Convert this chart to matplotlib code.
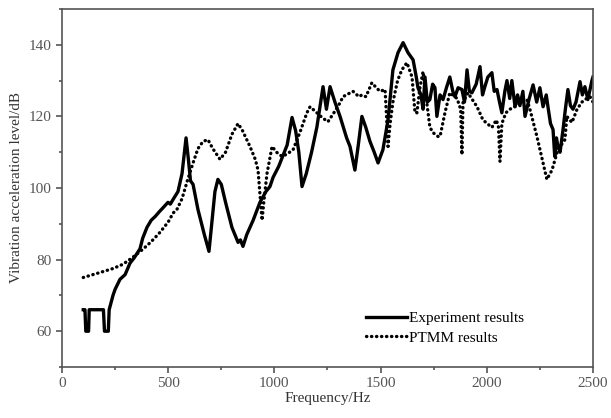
import matplotlib
matplotlib.use("Agg")
import matplotlib.pyplot as plt
from matplotlib.ticker import MultipleLocator

# Experiment results (solid line)
exp_freq = [100, 108, 112, 125, 128, 195, 200, 218, 222, 240, 250, 273, 297, 320, 340,
            367, 380, 400, 420, 438, 460, 476, 499, 510, 525, 546, 565, 584, 595, 605,
            617, 640, 670, 692, 705, 720, 734, 750, 770, 800, 829, 840, 852, 870, 900,
            932, 960, 979, 994, 1020, 1040, 1060, 1083, 1100, 1115, 1130, 1150, 1175,
            1200, 1229, 1245, 1262, 1285, 1309, 1340, 1356, 1379, 1395, 1412, 1430,
            1450, 1470, 1488, 1511, 1535, 1558, 1582, 1606, 1629, 1653, 1668, 1676, 1690,
            1700, 1709, 1720, 1732, 1745, 1756, 1765, 1780, 1794, 1810, 1826, 1840, 1850,
            1865, 1883, 1895, 1907, 1918, 1930, 1950, 1968, 1980, 1991, 2005, 2024, 2035,
            2048, 2060, 2071, 2085, 2095, 2108, 2118, 2133, 2145, 2156, 2170, 2180, 2200,
            2218, 2235, 2250, 2265, 2280, 2288, 2300, 2312, 2320, 2328, 2335, 2345, 2359,
            2370, 2382, 2394, 2406, 2420, 2439, 2450, 2462, 2476, 2488, 2495, 2500]
exp_level = [66, 66, 60, 60, 66, 66, 60, 60, 66, 70, 71.7, 74.5, 75.8, 79, 80.5,
             83, 86, 89, 91, 92, 93.5, 94.5, 96, 95.5, 97, 99, 104, 114, 108, 102,
             101, 94, 87, 82.3, 90, 99, 102.4, 101, 96, 89, 84.8, 85.5, 83.7, 87, 91,
             96, 99, 100.4, 103, 106, 109, 112, 119.7, 116, 110, 100.4, 104, 110,
             117, 128.3, 122, 128.3, 124, 120, 114, 111.6, 105, 112, 120, 117,
             113, 110, 107, 110.7, 119, 133, 137.8, 140.6, 137.8, 135.8, 131, 128, 126,
             122, 131, 124, 124.7, 129, 128, 120, 126, 124.7, 128, 131, 127, 125.5,
             128, 127.5, 124, 133, 127, 126.6, 129, 133.9, 126, 128.3, 131, 132.2, 127,
             127.5, 124, 121, 127, 130, 125, 130, 122.7, 126, 123, 127, 120, 125,
             128.8, 124, 128, 122.7, 126, 122.7, 118, 116.3, 108.8, 114, 111.6, 110, 116.3,
             122, 127.5, 123, 122, 124, 129.7, 126, 128.3, 124.7, 128, 130, 131]

# PTMM results (dotted line)
ptmm_freq = [100, 179, 240, 287, 330, 381, 420, 461, 500, 523, 541, 565, 590, 617,
             640, 664, 687, 710, 744, 770, 800, 829, 850, 885, 910, 923, 935, 942,
             950, 965, 989, 1010, 1036, 1060, 1088, 1120, 1153, 1168, 1200, 1224,
             1252, 1280, 1309, 1323, 1370, 1398, 1412, 1431, 1459, 1480, 1497, 1521,
             1528, 1535, 1545, 1558, 1580, 1600, 1624, 1648, 1662, 1671, 1685, 1700,
             1715, 1732, 1746, 1770, 1780, 1803, 1826, 1860, 1877, 1883, 1888, 1911,
             1954, 1982, 2024, 2045, 2055, 2062, 2071, 2090, 2109, 2140, 2166, 2189,
             2203, 2236, 2265, 2283, 2307, 2335, 2368, 2377, 2401, 2425, 2448, 2470,
             2486, 2500]
ptmm_level = [75, 76.4, 77.5, 78.7, 80.5, 82.9, 85, 87.6, 90.5, 93, 94, 97, 102, 107,
              111, 113, 113.5, 111, 108, 110, 115, 118, 116, 111.6, 108, 105, 96, 91,
              96, 104, 111.6, 110, 108.8, 109.5, 110.7, 115.5, 121, 122.7, 121, 119.7,
              118.5, 121, 123.8, 125.5, 127, 125.5, 126, 125.5, 129.4, 128, 127, 127.5,
              120, 111.6, 118, 124, 130, 133, 135, 131, 121, 121, 128, 132.5,
              125, 117, 115.5, 114.4, 114.4, 121, 126.6, 125, 122, 109.3, 123.8, 126.6,
              122.7, 119, 116.9, 119, 117, 107.4, 118, 121, 122, 123, 124.2, 124.7,
              122, 114.4, 107, 102.4, 105, 110.7, 113.5, 120, 118.3, 122, 124, 125,
              125.5, 124]

plt.rcParams["font.family"] = ["Liberation Serif", "DejaVu Serif"]

fig = plt.figure(figsize=(6.11, 4.18), dpi=100)
ax = fig.add_axes([0.1015, 0.122, 0.869, 0.8565])

ax.plot(exp_freq, exp_level, color="black", linewidth=2.4, label="Experiment results")
ax.plot(ptmm_freq, ptmm_level, color="black", linewidth=2.4,
        linestyle=(0, (0.1, 1.4)), dash_capstyle="round", label="PTMM results")

ax.set_xlim(0, 2500)
ax.set_ylim(50, 150)
ax.xaxis.set_major_locator(MultipleLocator(500))
ax.xaxis.set_minor_locator(MultipleLocator(250))
ax.yaxis.set_major_locator(MultipleLocator(20))
ax.yaxis.set_minor_locator(MultipleLocator(10))
ax.set_yticks([60, 80, 100, 120, 140])

for s in ax.spines.values():
    s.set_color("#555555")
    s.set_linewidth(1.2)
ax.tick_params(which="major", direction="out", length=4, width=1.2,
               color="#555555", labelsize=11, labelcolor="#555555")
ax.tick_params(which="minor", direction="out", length=2, width=1.2, color="#555555")

ax.set_xlabel("Frequency/Hz", fontsize=11, color="#333333", labelpad=1)
ax.set_ylabel("Vibration acceleration level/dB", fontsize=11, color="#333333", labelpad=4)

ax.legend(loc="upper left", bbox_to_anchor=(0.572, 0.155), frameon=False,
          fontsize=11, handlelength=2.7, handletextpad=0.15, labelspacing=0.38,
          borderpad=0, borderaxespad=0)

fig.savefig("out.png", dpi=100)
